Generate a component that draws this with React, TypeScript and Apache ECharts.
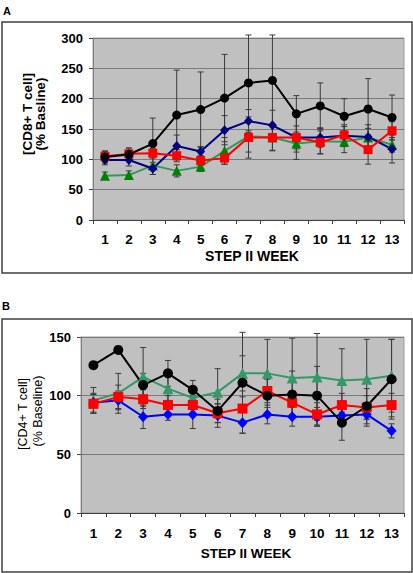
import React, { useEffect, useRef } from 'react';
import * as echarts from 'echarts';

const weeks = ['1', '2', '3', '4', '5', '6', '7', '8', '9', '10', '11', '12', '13'];

// Panel A: CD8+ T cell (% baseline)
const cd8Black = [104, 108, 126, 173, 182, 201, 226, 230, 175, 188, 171, 183, 169];
const cd8BlackErr = [10, 11, 42, 74, 62, 72, 79, 75, 30, 38, 29, 50, 37];
const cd8Blue = [99, 99, 85, 122, 113, 148, 163, 156, 136, 136, 139, 137, 117];
const cd8BlueErr = [8, 10, 10, 18, 8, 24, 19, 25, 19, 16, 18, 20, 23];
const cd8Red = [105, 109, 110, 106, 98, 102, 136, 136, 136, 128, 140, 116, 147];
const cd8RedErr = [8, 8, 8, 10, 8, 10, 34, 22, 36, 19, 14, 24, 15];
const cd8Green = [73, 74, 90, 81, 88, 114, 138, 136, 126, 130, 129, 136, 124];
const cd8GreenErr = [6, 7, 15, 10, 8, 22, 26, 21, 14, 21, 18, 15, 12];

// Panel B: CD4+ T cell (% baseline)
const cd4Black = [126, 139, 109, 119, 105, 87, 111, 100, 101, 100, 77, 91, 114];
const cd4BlackErr = [3, 3, 10, 11, 8, 10, 43, 15, 20, 25, 15, 15, 34];
const cd4Green = [96, 102, 116, 106, 98, 103, 119, 119, 115, 116, 113, 114, 117];
const cd4GreenErr = [11, 17, 25, 10, 10, 20, 15, 29, 34, 37, 27, 34, 31];
const cd4Red = [93, 99, 97, 92, 92, 85, 89, 104, 94, 84, 92, 90, 92];
const cd4RedErr = [8, 10, 8, 8, 8, 8, 10, 10, 10, 10, 10, 10, 10];
const cd4Blue = [94, 96, 82, 84, 84, 83, 77, 84, 82, 82, 83, 84, 70];
const cd4BlueErr = [8, 8, 10, 5, 12, 10, 9, 8, 8, 8, 8, 10, 6];

const FONT = 'Liberation Sans, Arial, sans-serif';

function errSeries(name: string, vals: number[], errs: number[], axis: number) {
  return {
    type: 'custom',
    name: name + ' SD',
    xAxisIndex: axis,
    yAxisIndex: axis,
    z: 1,
    clip: false,
    silent: true,
    data: vals.map((v, i) => [i, v - errs[i], v + errs[i]]),
    encode: { x: 0, y: [1, 2] },
    renderItem: (params: any, api: any) => {
      const x = api.value(0);
      const lo = api.coord([x, api.value(1)]);
      const hi = api.coord([x, api.value(2)]);
      const w = 3;
      const style = { stroke: '#3a3a3a', lineWidth: 1, fill: null };
      return {
        type: 'group',
        children: [
          { type: 'line', shape: { x1: lo[0], y1: lo[1], x2: hi[0], y2: hi[1] }, style },
          { type: 'line', shape: { x1: lo[0] - w, y1: lo[1], x2: lo[0] + w, y2: lo[1] }, style },
          { type: 'line', shape: { x1: hi[0] - w, y1: hi[1], x2: hi[0] + w, y2: hi[1] }, style },
        ],
      };
    },
  };
}

function lineSeries(name: string, vals: number[], axis: number, symbol: string, size: any, lineColor: string, markerColor: string) {
  return {
    type: 'line',
    name,
    xAxisIndex: axis,
    yAxisIndex: axis,
    z: 3,
    data: vals,
    symbol,
    symbolSize: size,
    showAllSymbol: true,
    lineStyle: { color: lineColor, width: 2 },
    itemStyle: { color: markerColor, borderWidth: 0 },
  };
}

function xAxis(gridIndex: number, margin: number) {
  return {
    type: 'category',
    gridIndex,
    data: weeks,
    boundaryGap: true,
    axisLine: { show: true, lineStyle: { color: '#404040', width: 1 } },
    axisTick: { show: true, length: 4, interval: 0, lineStyle: { color: '#404040' } },
    axisLabel: { interval: 0, margin, color: '#000', fontFamily: FONT, fontWeight: 'bold', fontSize: 13.5 },
    splitLine: { show: false },
  };
}

function yAxis(gridIndex: number, max: number) {
  return {
    type: 'value',
    gridIndex,
    min: 0,
    max,
    interval: 50,
    axisLine: { show: true, lineStyle: { color: '#808080', width: 1 } },
    axisTick: { show: true, length: 4, lineStyle: { color: '#404040' } },
    axisLabel: { margin: 10, color: '#000', fontFamily: FONT, fontWeight: 'bold', fontSize: 13 },
    splitLine: { show: true, lineStyle: { color: '#7a7a7a', width: 1 } },
  };
}

function txt(text: string, x: number, y: number, size: number, weight: string, rotate = 0) {
  return {
    type: 'text',
    x,
    y,
    rotation: rotate,
    style: {
      text,
      fill: '#000',
      font: `${weight} ${size}px ${FONT}`,
      align: 'center',
      verticalAlign: 'middle',
    },
  };
}

export default function App() {
  const ref = useRef<HTMLDivElement>(null);
  useEffect(() => {
    if (!ref.current) return;
    const chart = echarts.init(ref.current, null, { renderer: 'svg' });
    chart.setOption({
      animation: false,
      backgroundColor: '#ffffff',
      grid: [
        { left: 93, top: 38, width: 311, height: 182, show: true, backgroundColor: '#C0C0C0', borderColor: '#9c9c9c', borderWidth: 1 },
        { left: 81, top: 337, width: 323, height: 176, show: true, backgroundColor: '#C0C0C0', borderColor: '#9c9c9c', borderWidth: 1 },
      ],
      xAxis: [xAxis(0, 12), xAxis(1, 13)],
      yAxis: [yAxis(0, 300), yAxis(1, 150)],
      series: [
        errSeries('Black A', cd8Black, cd8BlackErr, 0),
        errSeries('Blue A', cd8Blue, cd8BlueErr, 0),
        errSeries('Red A', cd8Red, cd8RedErr, 0),
        errSeries('Green A', cd8Green, cd8GreenErr, 0),
        lineSeries('Green A', cd8Green, 0, 'triangle', 10, '#2f9a5c', '#008000'),
        lineSeries('Blue A', cd8Blue, 0, 'diamond', [9, 10], '#000080', '#000080'),
        lineSeries('Red A', cd8Red, 0, 'rect', 9, '#ff0000', '#ff0000'),
        lineSeries('Black A', cd8Black, 0, 'circle', 9, '#000000', '#000000'),

        errSeries('Black B', cd4Black, cd4BlackErr, 1),
        errSeries('Green B', cd4Green, cd4GreenErr, 1),
        errSeries('Red B', cd4Red, cd4RedErr, 1),
        errSeries('Blue B', cd4Blue, cd4BlueErr, 1),
        lineSeries('Green B', cd4Green, 1, 'triangle', 11, '#339966', '#339966'),
        lineSeries('Blue B', cd4Blue, 1, 'diamond', [10, 11], '#0000ff', '#0000ff'),
        lineSeries('Red B', cd4Red, 1, 'rect', 10, '#ff0000', '#ff0000'),
        lineSeries('Black B', cd4Black, 1, 'circle', 10, '#000000', '#000000'),
      ],
      graphic: [
        { type: 'rect', shape: { x: 2, y: 22, width: 410, height: 251 }, style: { fill: 'none', stroke: '#404040', lineWidth: 1.5 }, z: -1 },
        { type: 'rect', shape: { x: 2, y: 319, width: 410, height: 253 }, style: { fill: 'none', stroke: '#404040', lineWidth: 1.5 }, z: -1 },
        txt('A', 7, 11, 11, 'bold'),
        txt('B', 6, 306, 11, 'bold'),
        txt('[CD8+ T cell]', 27, 114, 13.5, 'bold', Math.PI / 2),
        txt('(% Basline)', 40, 114, 13.5, 'bold', Math.PI / 2),
        txt('[CD4+ T cell]', 23, 414, 12.5, 'normal', Math.PI / 2),
        txt('(% Baseline)', 38, 411, 12.5, 'normal', Math.PI / 2),
        txt('STEP II WEEK', 252, 256, 14, 'bold'),
        txt('STEP II WEEK', 246, 553, 13.5, 'bold'),
      ],
    });
    return () => chart.dispose();
  }, []);
  return <div ref={ref} style={{ position: 'absolute', left: 0, top: 0, width: 413, height: 573 }} />;
}
